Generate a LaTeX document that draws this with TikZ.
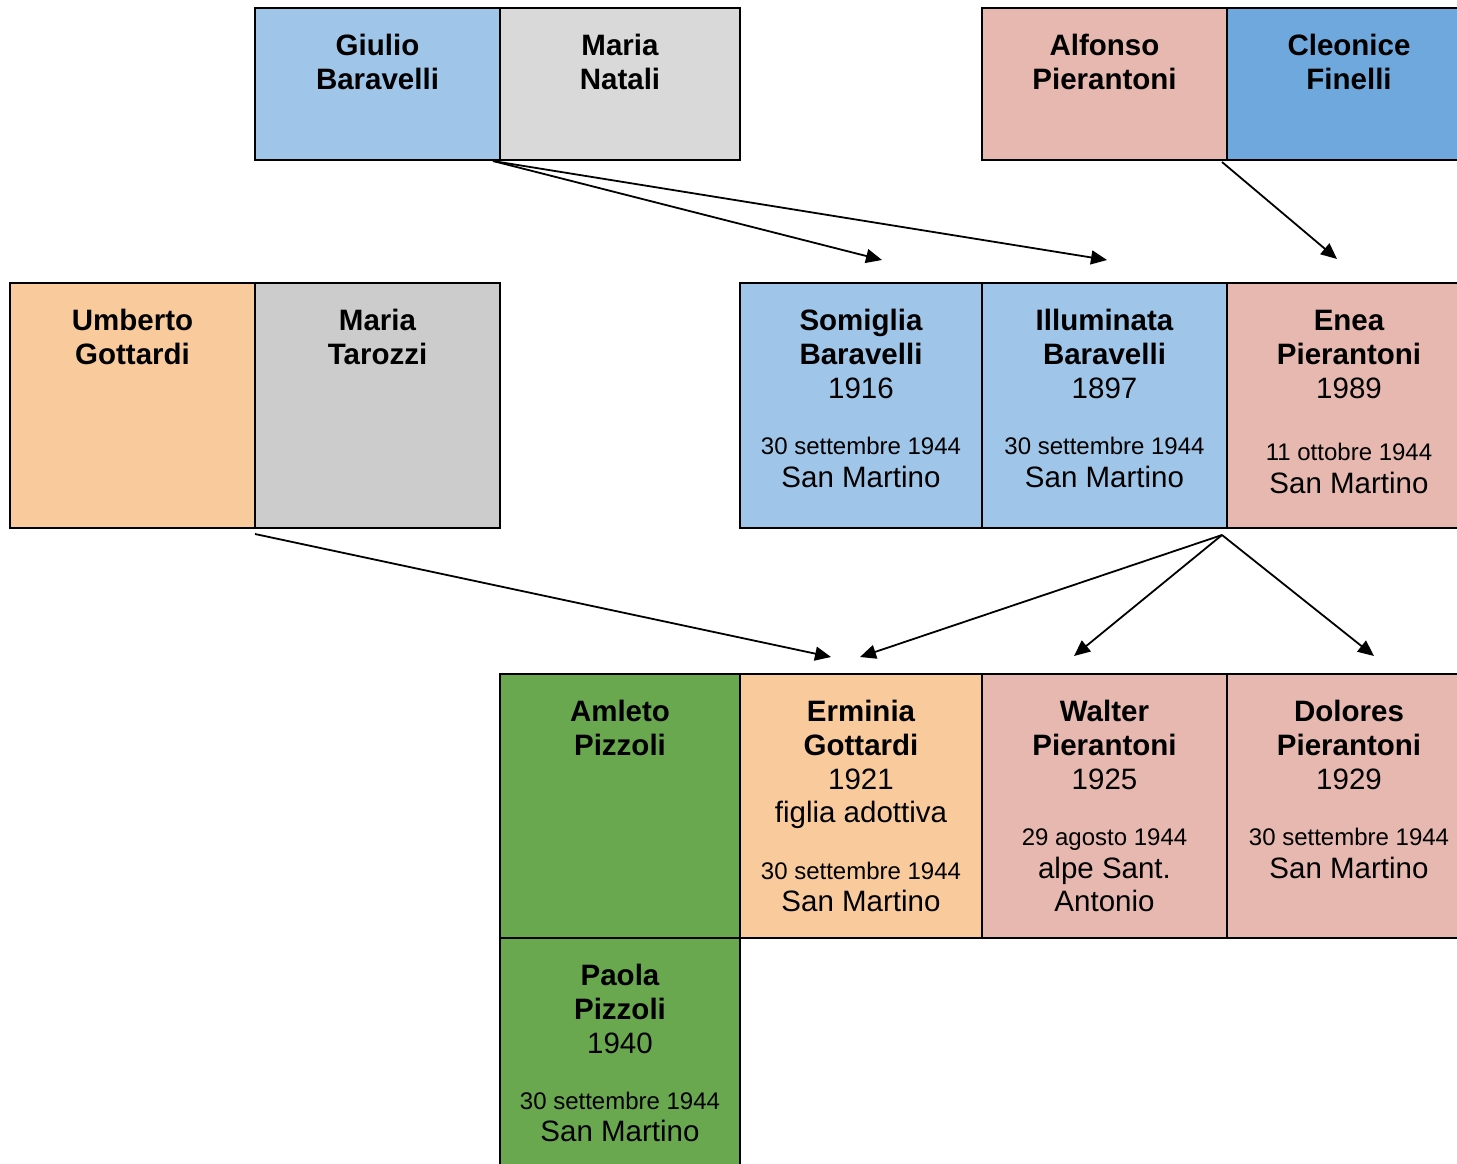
\documentclass[tikz,border=0pt]{standalone}
\usepackage{fontspec}
\setmainfont{Liberation Sans}
\usetikzlibrary{arrows.meta,calc}

\definecolor{azzurro}{HTML}{9FC5E8}
\definecolor{blu}{HTML}{6FA8DC}
\definecolor{rosa}{HTML}{E6B8AF}
\definecolor{pesca}{HTML}{F9CB9C}
\definecolor{verde}{HTML}{6AA84F}
\definecolor{grigio}{HTML}{D9D9D9}
\definecolor{grigioscuro}{HTML}{CCCCCC}

\newcommand{\nome}[1]{\bfseries #1}
\newcommand{\data}[1]{\fontsize{24}{34}\selectfont #1}

\tikzset{
  casella/.style={draw, line width=1.5pt, anchor=north west, inner sep=0pt, outer sep=0pt},
  testo/.style={anchor=north, inner sep=0pt, align=center, font=\fontsize{29.5}{34}\selectfont},
  freccia/.style={->, line width=1.8pt}
}

\begin{document}
\begin{tikzpicture}[x=1pt, y=-1pt, >={Triangle[length=16pt,width=14pt]}]
	\useasboundingbox (0,0) rectangle (1457,1163);
	% nonni
	\node[casella, fill=azzurro, minimum width=245, minimum height=152] (giulio) at (255,8) {};
	\node[casella, fill=grigio, minimum width=240, minimum height=152] (natali) at (500,8) {};
	\node[casella, fill=rosa, minimum width=245, minimum height=152] (alfonso) at (982,8) {};
	\node[casella, fill=blu, minimum width=260, minimum height=152] (cleonice) at (1227,8) {};
	\node[testo] at ($(giulio.north)+(0,25.5)$) {\nome{Giulio}\\\nome{Baravelli}};
	\node[testo] at ($(natali.north)+(0,25.5)$) {\nome{Maria}\\\nome{Natali}};
	\node[testo] at ($(alfonso.north)+(0,25.5)$) {\nome{Alfonso}\\\nome{Pierantoni}};
	\node[testo] at ($(cleonice.north west)+(122,25.5)$) {\nome{Cleonice}\\\nome{Finelli}};
	% genitori
	\node[casella, fill=pesca, minimum width=245, minimum height=245] (umberto) at (10,283) {};
	\node[casella, fill=grigioscuro, minimum width=245, minimum height=245] (tarozzi) at (255,283) {};
	\node[casella, fill=azzurro, minimum width=242, minimum height=245] (somiglia) at (740,283) {};
	\node[casella, fill=azzurro, minimum width=245, minimum height=245] (illuminata) at (982,283) {};
	\node[casella, fill=rosa, minimum width=260, minimum height=245] (enea) at (1227,283) {};
	\node[testo] at ($(umberto.north)+(0,25.5)$) {\nome{Umberto}\\\nome{Gottardi}};
	\node[testo] at ($(tarozzi.north)+(0,25.5)$) {\nome{Maria}\\\nome{Tarozzi}};
	\node[testo] at ($(somiglia.north)+(0,25.5)$) {\nome{Somiglia}\\\nome{Baravelli}\\1916\\[22.5pt]\data{30 settembre 1944}\\[-1.5pt]San Martino};
	\node[testo] at ($(illuminata.north)+(0,25.5)$) {\nome{Illuminata}\\\nome{Baravelli}\\1897\\[22.5pt]\data{30 settembre 1944}\\[-1.5pt]San Martino};
	\node[testo] at ($(enea.north west)+(122,26.5)$) {\nome{Enea}\\\nome{Pierantoni}\\1989\\[28.5pt]\data{11 ottobre 1944}\\[-1.5pt]San Martino};
	% figli
	\node[casella, fill=verde, minimum width=240, minimum height=264] (amleto) at (500,674) {};
	\node[casella, fill=pesca, minimum width=242, minimum height=264] (erminia) at (740,674) {};
	\node[casella, fill=rosa, minimum width=245, minimum height=264] (walter) at (982,674) {};
	\node[casella, fill=rosa, minimum width=260, minimum height=264] (dolores) at (1227,674) {};
	\node[casella, fill=verde, minimum width=240, minimum height=260] (paola) at (500,938) {};
	\node[testo] at ($(amleto.north)+(0,25.5)$) {\nome{Amleto}\\\nome{Pizzoli}};
	\node[testo] at ($(erminia.north)+(0,25.5)$) {\nome{Erminia}\\\nome{Gottardi}\\1921\\[-1pt]figlia adottiva\\[23.5pt]\data{30 settembre 1944}\\[-2.5pt]San Martino};
	\node[testo] at ($(walter.north)+(0,25.5)$) {\nome{Walter}\\\nome{Pierantoni}\\1925\\[22.5pt]\data{29 agosto 1944}\\[-1.5pt]alpe Sant.\\[-1pt]Antonio};
	\node[testo] at ($(dolores.north west)+(122,25.5)$) {\nome{Dolores}\\\nome{Pierantoni}\\1929\\[22.5pt]\data{30 settembre 1944}\\[-1.5pt]San Martino};
	\node[testo] at ($(paola.north)+(0,25.5)$) {\nome{Paola}\\\nome{Pizzoli}\\1940\\[22.5pt]\data{30 settembre 1944}\\[-2.5pt]San Martino};
	% frecce
	\coordinate (daBaravelli) at ($(giulio.south east)+(-7,1)$);
	\coordinate (daPierantoni) at ($(cleonice.south west)+(-5,2)$);
	\coordinate (daGottardi) at ($(umberto.south east)+(0,6)$);
	\coordinate (daIlluminata) at ($(illuminata.south east)+(-5,7)$);
	\coordinate (aSomiglia) at ($(somiglia.north)+(21,-23)$);
	\coordinate (aIlluminata) at ($(illuminata.north)+(2.5,-23)$);
	\coordinate (aEnea) at ($(enea.north west)+(110,-24)$);
	\coordinate (aErminia1) at ($(erminia.north)+(-30,-17)$);
	\coordinate (aErminia2) at ($(erminia.north)+(-1,-17)$);
	\coordinate (aWalter) at ($(walter.north)+(-30.5,-18)$);
	\coordinate (aDolores) at ($(dolores.north west)+(147,-18)$);
	\draw[freccia] (daBaravelli) -- (aSomiglia);
	\draw[freccia] (daBaravelli) -- (aIlluminata);
	\draw[freccia] (daPierantoni) -- (aEnea);
	\draw[freccia] (daGottardi) -- (aErminia1);
	\draw[freccia] (daIlluminata) -- (aErminia2);
	\draw[freccia] (daIlluminata) -- (aWalter);
	\draw[freccia] (daIlluminata) -- (aDolores);
\end{tikzpicture}
\end{document}
